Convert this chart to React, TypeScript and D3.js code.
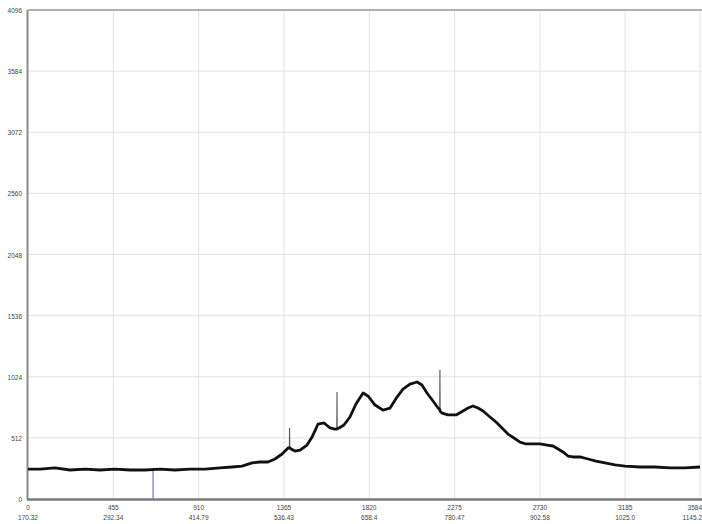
import React from "react";
import * as d3 from "d3";

// Spectrum: channel number vs. counts
const channels = [
  0, 64, 144, 224, 304, 384, 464, 544, 624, 704, 784, 864, 944, 1024, 1088, 1141,
  1195, 1237, 1280, 1317, 1355, 1387, 1394, 1395, 1396, 1403, 1424, 1451, 1488, 1515,
  1547, 1579, 1611, 1637, 1647, 1648, 1649, 1659, 1685, 1717, 1749, 1787, 1813, 1851,
  1893, 1931, 1968, 2000, 2037, 2075, 2101, 2128, 2160, 2187, 2196, 2197, 2198, 2208,
  2240, 2283, 2320, 2347, 2373, 2400, 2427, 2464, 2496, 2528, 2560, 2592, 2624, 2656,
  2693, 2731, 2768, 2800, 2827, 2853, 2880, 2907, 2944, 2987, 3029, 3077, 3131, 3184,
  3264, 3344, 3424, 3504, 3584,
];
const counts = [
  251, 251, 260, 243, 251, 243, 251, 243, 243, 251, 243, 251, 251, 260, 268, 276,
  302, 310, 310, 335, 377, 427, 427, 595, 430, 419, 402, 410, 452, 519,
  628, 637, 595, 586, 586, 896, 590, 595, 620, 687, 796, 888, 863, 787,
  745, 762, 854, 921, 963, 980, 955, 888, 821, 762, 750, 1081, 735, 720,
  704, 704, 737, 762, 779, 762, 737, 687, 645, 595, 544, 511, 477, 461,
  461, 461, 452, 444, 419, 394, 360, 352, 352, 335, 318, 302, 285, 276,
  268, 268, 260, 260, 268,
];
// Single-channel spikes within the spectrum
const spikeChannels = [1395, 1648, 2197];

// Cursor marker
const cursorChannel = 667;
const cursorCount = 243;

// Axis labels
const xTicks = [0, 455, 910, 1365, 1820, 2275, 2730, 3185, 3584];
const xTickLabels = ["0", "455", "910", "1365", "1820", "2275", "2730", "3185", "3584"];
const energyLabels = ["170.32", "292.34", "414.79", "536.43", "658.4", "780.47", "902.58", "1025.0", "1145.2"];
const yTicks = [0, 512, 1024, 1536, 2048, 2560, 3072, 3584, 4096];

const W = 702;
const H = 524;
const left = 28;
const right = 700;
const top = 10;
const bottom = 499;

export default function App() {
  const x = d3.scaleLinear().domain([0, 3584]).range([left, right]);
  const y = d3.scaleLinear().domain([0, 4096]).range([bottom, top]);
  const pts: [number, number][] = channels.map((c, i) => [c, counts[i]]);
  const body = pts.filter((p) => !spikeChannels.includes(p[0]));
  const line = d3
    .line<[number, number]>()
    .x((d) => x(d[0]))
    .y((d) => y(d[1]));

  const font = "'Liberation Sans', Arial, sans-serif";

  return (
    <svg
      width={W}
      height={H}
      style={{ position: "absolute", left: 0, top: 0, background: "#fff" }}
    >
      {/* grid */}
      {yTicks.slice(1).map((t) => (
        <line key={"gy" + t} x1={left} x2={W} y1={y(t)} y2={y(t)} stroke="#e2e2e2" strokeWidth={1} />
      ))}
      {xTicks.slice(1).map((t) => (
        <line key={"gx" + t} x1={x(t)} x2={x(t)} y1={top} y2={bottom} stroke="#e2e2e2" strokeWidth={1} />
      ))}
      {/* frame */}
      <line x1={left} x2={W} y1={top} y2={top} stroke="#9a9a9a" strokeWidth={1.5} />
      <line x1={left - 0.5} x2={left - 0.5} y1={top} y2={bottom} stroke="#8a8a8a" strokeWidth={2} />
      <line x1={left - 1} x2={W} y1={bottom + 0.5} y2={bottom + 0.5} stroke="#7a7a7a" strokeWidth={2.5} />

      {/* cursor */}
      <line
        x1={x(cursorChannel)}
        x2={x(cursorChannel)}
        y1={y(cursorCount)}
        y2={y(0)}
        stroke="#7878c0"
        strokeWidth={1.2}
      />

      {/* spectrum: thin trace carries the spikes, heavy trace the noisy body */}
      <path d={line(pts) || ""} fill="none" stroke="#555" strokeWidth={1.1} />
      <path
        d={line(body) || ""}
        fill="none"
        stroke="#111"
        strokeWidth={2.8}
        strokeLinejoin="round"
      />

      {/* y labels */}
      {yTicks.map((t) => (
        <text
          key={"ly" + t}
          x={22}
          y={y(t) + 3}
          textAnchor="end"
          fontFamily={font}
          fontSize={6.5}
          fill="#444"
        >
          {t}
        </text>
      ))}
      {/* x labels */}
      {xTicks.map((t, i) => {
        const last = i === xTicks.length - 1;
        return (
          <g key={"lx" + t}>
            <text x={last ? W : x(t)} y={510} textAnchor={last ? "end" : "middle"} fontFamily={font} fontSize={6.5} fill="#444">
              {xTickLabels[i]}
            </text>
            <text x={last ? W : x(t)} y={520} textAnchor={last ? "end" : "middle"} fontFamily={font} fontSize={6.5} fill="#444">
              {energyLabels[i]}
            </text>
          </g>
        );
      })}
    </svg>
  );
}
